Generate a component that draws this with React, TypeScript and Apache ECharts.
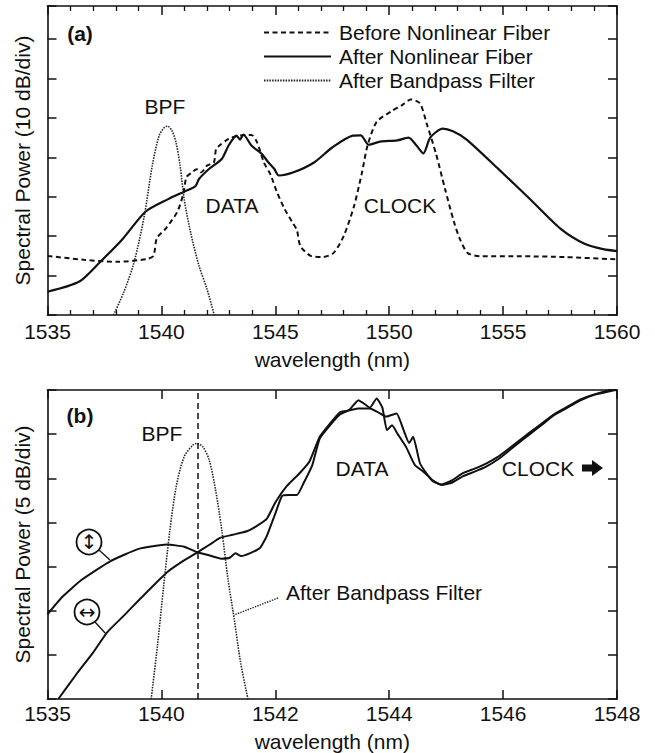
import React, { useEffect, useRef } from "react";
import * as echarts from "echarts";

// ---------- Panel (a): 1535–1560 nm, 10 dB/div (values in divisions above the bottom axis) ----------
const beforeWl = [1535, 1536.6, 1538.1, 1539.35, 1539.65, 1539.8, 1540.2, 1540.7, 1540.95, 1541.1, 1541.3, 1541.55, 1541.75, 1542.0, 1542.3, 1542.4, 1542.55, 1542.95, 1543.4, 1543.95, 1544.2, 1544.5, 1544.8, 1545.05, 1545.4, 1545.75, 1545.95, 1546.1, 1546.55, 1547.05, 1547.55, 1548.0, 1548.45, 1548.8, 1549.05, 1549.45, 1550.1, 1550.55, 1550.95, 1551.35, 1551.65, 1552.05, 1552.45, 1552.85, 1553.1, 1553.45, 1554.0, 1555.8, 1557.7, 1560];
const beforeDiv = [1.5, 1.4, 1.35, 1.42, 1.5, 1.95, 2.2, 2.62, 3.05, 3.5, 3.6, 3.7, 3.62, 3.79, 3.87, 4.21, 4.3, 4.47, 4.55, 4.57, 4.38, 3.87, 3.55, 3.15, 2.7, 2.35, 2.15, 1.75, 1.5, 1.47, 1.57, 2.0, 2.75, 3.6, 4.3, 4.9, 5.17, 5.32, 5.47, 5.37, 4.85, 4.1, 3.2, 2.35, 1.93, 1.57, 1.49, 1.49, 1.47, 1.41];

const afterWl = [1535, 1536.4, 1537.3, 1538.3, 1539.3, 1540.3, 1541.0, 1541.5, 1541.65, 1542.1, 1542.65, 1542.95, 1543.3, 1543.45, 1543.6, 1543.95, 1544.4, 1544.7, 1544.95, 1545.15, 1545.8, 1546.7, 1547.5, 1548.4, 1548.75, 1549.1, 1549.6, 1550.35, 1550.85, 1551.2, 1551.5, 1551.8, 1552.35, 1552.8, 1553.4, 1554.8, 1556.2, 1557.5, 1558.6, 1559.4, 1560];
const afterDiv = [0.59, 0.85, 1.34, 1.93, 2.62, 2.94, 3.13, 3.27, 3.45, 3.71, 3.96, 4.3, 4.55, 4.45, 4.58, 4.3, 4.09, 3.87, 3.71, 3.54, 3.62, 3.87, 4.25, 4.55, 4.56, 4.32, 4.4, 4.43, 4.5, 4.3, 4.1, 4.5, 4.73, 4.66, 4.45, 3.7, 2.93, 2.2, 1.8, 1.67, 1.62];

const bpfTopWl = [1537.9, 1538.35, 1538.8, 1539.25, 1539.6, 1539.9, 1540.13, 1540.27, 1540.46, 1540.64, 1540.82, 1541.0, 1541.28, 1541.65, 1542.0, 1542.32];
const bpfTopDiv = [0, 0.58, 1.34, 2.52, 3.79, 4.55, 4.76, 4.79, 4.68, 4.38, 3.79, 2.94, 2.1, 1.25, 0.66, 0];

// ---------- Panel (b): 5 dB/div ----------
const bottomTickLabels: Record<number, string> = { 1538: "1535", 1540: "1540", 1542: "1542", 1544: "1544", 1546: "1546", 1548: "1548" };

const vertWl = [1538, 1538.25, 1538.6, 1539.1, 1539.6, 1540.1, 1540.4, 1540.62, 1540.85, 1541.05, 1541.2, 1541.3, 1541.4, 1541.55, 1541.73, 1541.85, 1542.0, 1542.12, 1542.25, 1542.38, 1542.5, 1542.65, 1542.78, 1542.96, 1543.14, 1543.3, 1543.46, 1543.55, 1543.66, 1543.78, 1543.88, 1543.96, 1544.05, 1544.15, 1544.3, 1544.45, 1544.6, 1544.77, 1544.92, 1545.1, 1545.3, 1545.5, 1545.71, 1545.9, 1546.06, 1546.25, 1546.47, 1546.7, 1546.88, 1547.1, 1547.35, 1547.6, 1547.93, 1548];
const vertDiv = [1.92, 2.3, 2.7, 3.12, 3.4, 3.5, 3.45, 3.33, 3.25, 3.18, 3.2, 3.3, 3.24, 3.3, 3.42, 3.69, 4.2, 4.6, 4.62, 4.62, 4.9, 5.3, 5.9, 6.2, 6.45, 6.55, 6.77, 6.7, 6.6, 6.81, 6.6, 6.09, 6.2, 6.0, 5.7, 5.3, 5.15, 4.95, 4.85, 4.9, 5.05, 5.15, 5.27, 5.42, 5.58, 5.78, 6.0, 6.23, 6.42, 6.58, 6.76, 6.89, 6.99, 7.0];

const horzWl = [1538.19, 1538.5, 1538.8, 1539.04, 1539.35, 1539.62, 1540.09, 1540.35, 1540.62, 1540.85, 1541.03, 1541.25, 1541.5, 1541.65, 1541.85, 1542.0, 1542.2, 1542.43, 1542.6, 1542.78, 1542.96, 1543.14, 1543.31, 1543.46, 1543.66, 1543.8, 1543.95, 1544.13, 1544.25, 1544.35, 1544.42, 1544.54, 1544.66, 1544.77, 1544.92, 1545.1, 1545.3, 1545.5, 1545.71, 1545.9, 1546.06, 1546.25, 1546.47, 1546.7, 1546.88, 1547.1, 1547.35, 1547.6, 1547.93, 1548];
const horzDiv = [0, 0.55, 1.05, 1.5, 1.9, 2.26, 2.86, 3.1, 3.31, 3.5, 3.65, 3.72, 3.8, 3.9, 4.08, 4.45, 4.82, 5.12, 5.38, 5.94, 6.24, 6.5, 6.54, 6.58, 6.58, 6.5, 6.4, 6.47, 6.1, 5.8, 5.94, 5.34, 5.1, 4.93, 4.86, 4.95, 5.12, 5.22, 5.34, 5.48, 5.63, 5.82, 6.04, 6.26, 6.44, 6.6, 6.78, 6.9, 7.0, 7.0];

const bpfBotWl = [1539.82, 1539.93, 1540.04, 1540.15, 1540.26, 1540.4, 1540.55, 1540.62, 1540.73, 1540.84, 1540.95, 1541.06, 1541.17, 1541.28, 1541.39, 1541.52];
const bpfBotDiv = [0, 1.2, 2.56, 3.83, 4.81, 5.49, 5.75, 5.79, 5.71, 5.41, 4.74, 3.83, 2.71, 1.8, 0.83, 0];
const bpfCenter = 1540.63;

const FONT = "Liberation Sans, Arial, Helvetica, sans-serif";
const INK = "#111";
const DOT = "#222";

const pairs = (xs: number[], ys: number[]) => xs.map((x, i) => [x, ys[i]]);

function axisX(gridIndex: number, min: number, max: number, interval: number, bottom: boolean, minor: boolean, name: string, nameGap: number, margin: number, fmt: (v: number) => string) {
  return {
    type: "value",
    gridIndex,
    position: bottom ? "bottom" : "top",
    min,
    max,
    interval,
    name: bottom ? name : "",
    nameLocation: "middle",
    nameGap,
    nameTextStyle: { fontSize: 21, color: INK, fontFamily: FONT },
    axisLine: { show: true, onZero: false, lineStyle: { color: INK, width: 1.6 } },
    axisTick: { show: true, inside: true, length: 9, lineStyle: { color: INK, width: 1.5 } },
    minorTick: { show: minor, splitNumber: 5, length: 5, lineStyle: { color: INK, width: 1.3 } },
    axisLabel: { show: bottom, fontSize: 21, color: INK, fontFamily: FONT, margin, formatter: fmt },
    splitLine: { show: false },
    minorSplitLine: { show: false },
  };
}

function axisY(gridIndex: number, max: number, left: boolean, name: string) {
  return {
    type: "value",
    gridIndex,
    position: left ? "left" : "right",
    min: 0,
    max,
    interval: 1,
    name: left ? name : "",
    nameLocation: "middle",
    nameGap: 15,
    nameTextStyle: { fontSize: 21, color: INK, fontFamily: FONT },
    axisLine: { show: true, onZero: false, lineStyle: { color: INK, width: 1.6 } },
    axisTick: { show: true, inside: true, length: 9, lineStyle: { color: INK, width: 1.5 } },
    axisLabel: { show: false },
    splitLine: { show: false },
  };
}

const txt = (text: string, x: number, y: number, extra: any = {}) => ({
  type: "text",
  x,
  y,
  silent: true,
  style: { text, fill: INK, fontSize: 21, fontFamily: FONT, align: "center", verticalAlign: "middle", ...extra },
});

export default function App() {
  const ref = useRef<HTMLDivElement>(null);
  useEffect(() => {
    document.body.style.margin = "0";
    const chart = echarts.init(ref.current!, null, { renderer: "svg" });
    const plain = (v: number) => String(v);
    const option: any = {
      animation: false,
      backgroundColor: "#fff",
      textStyle: { fontFamily: FONT },
      grid: [
        { left: 47.5, right: 38, top: 6, height: 309, containLabel: false },
        { left: 47.5, right: 38, top: 390, height: 310, containLabel: false },
      ],
      xAxis: [
        axisX(0, 1535, 1560, 5, true, true, "wavelength (nm)", 34, 6, plain),
        axisX(0, 1535, 1560, 5, false, true, "", 0, 0, plain),
        axisX(1, 1538, 1548, 2, true, false, "wavelength (nm)", 32, 4, (v: number) => bottomTickLabels[v] ?? String(v)),
        axisX(1, 1538, 1548, 2, false, false, "", 0, 0, plain),
      ],
      yAxis: [
        axisY(0, 7.84, true, "Spectral Power (10 dB/div)"),
        axisY(0, 7.84, false, ""),
        axisY(1, 7, true, "Spectral Power (5 dB/div)"),
        axisY(1, 7, false, ""),
      ],
      legend: {
        data: ["Before Nonlinear Fiber", "After Nonlinear Fiber", "After Bandpass Filter"],
        orient: "vertical",
        left: 263,
        top: 22,
        padding: 0,
        itemWidth: 67,
        itemHeight: 21,
        itemGap: 3,
        selectedMode: false,
        itemStyle: { opacity: 0 },
        textStyle: { fontSize: 21, color: INK, fontFamily: FONT, padding: [0, 0, 0, 3] },
      },
      series: [
        {
          name: "Before Nonlinear Fiber",
          type: "line",
          xAxisIndex: 0,
          yAxisIndex: 0,
          data: pairs(beforeWl, beforeDiv),
          showSymbol: false,
          symbol: "none",
          smooth: 0.25,
          lineStyle: { color: INK, width: 2, type: [5, 3.5] },
        },
        {
          name: "After Nonlinear Fiber",
          type: "line",
          xAxisIndex: 0,
          yAxisIndex: 0,
          data: pairs(afterWl, afterDiv),
          showSymbol: false,
          symbol: "none",
          smooth: 0.25,
          lineStyle: { color: INK, width: 2.2, type: "solid" },
        },
        {
          name: "After Bandpass Filter",
          type: "line",
          xAxisIndex: 0,
          yAxisIndex: 0,
          data: pairs(bpfTopWl, bpfTopDiv),
          showSymbol: false,
          symbol: "none",
          smooth: 0.3,
          lineStyle: { color: DOT, width: 1.6, type: [1.5, 1.2] },
        },
        {
          name: "vertical polarization",
          type: "line",
          xAxisIndex: 2,
          yAxisIndex: 2,
          data: pairs(vertWl, vertDiv),
          showSymbol: false,
          symbol: "none",
          smooth: 0.15,
          lineStyle: { color: INK, width: 2 },
        },
        {
          name: "horizontal polarization",
          type: "line",
          xAxisIndex: 2,
          yAxisIndex: 2,
          data: pairs(horzWl, horzDiv),
          showSymbol: false,
          symbol: "none",
          smooth: 0.15,
          lineStyle: { color: INK, width: 2 },
        },
        {
          name: "BPF (b)",
          type: "line",
          xAxisIndex: 2,
          yAxisIndex: 2,
          data: pairs(bpfBotWl, bpfBotDiv),
          showSymbol: false,
          symbol: "none",
          smooth: 0.3,
          lineStyle: { color: DOT, width: 1.6, type: [1.5, 1.2] },
          markLine: {
            silent: true,
            symbol: ["none", "none"],
            label: { show: false },
            lineStyle: { color: INK, width: 1.5, type: [6, 4] },
            data: [{ xAxis: bpfCenter }],
          },
        },
      ],
      graphic: [
        txt("(a)", 80, 33, { fontWeight: "bold" }),
        txt("BPF", 165, 106),
        txt("DATA", 232, 205),
        txt("CLOCK", 400, 205),
        txt("(b)", 80, 415, { fontWeight: "bold" }),
        txt("BPF", 162, 433),
        txt("DATA", 362, 468),
        txt("CLOCK", 538, 468),
        {
          type: "polygon",
          silent: true,
          shape: { points: [[582, 464.5], [592, 464.5], [592, 460], [603, 468], [592, 476], [592, 471.5], [582, 471.5]] },
          style: { fill: INK },
        },
        txt("After Bandpass Filter", 286, 592, { align: "left" }),
        {
          type: "line",
          silent: true,
          shape: { x1: 278, y1: 598, x2: 234, y2: 615 },
          style: { stroke: DOT, lineWidth: 1.4, lineDash: [1.4, 1.2] },
        },
        { type: "circle", silent: true, shape: { cx: 89, cy: 542, r: 12.5 }, style: { fill: "#fff", stroke: INK, lineWidth: 1.8 } },
        txt("↕", 89, 542, { fontSize: 20, fontFamily: "DejaVu Sans" }),
        { type: "line", silent: true, shape: { x1: 99, y1: 550, x2: 110, y2: 560 }, style: { stroke: INK, lineWidth: 1.3 } },
        { type: "circle", silent: true, shape: { cx: 87, cy: 612, r: 12.5 }, style: { fill: "#fff", stroke: INK, lineWidth: 1.8 } },
        txt("↔", 87, 612, { fontSize: 20, fontFamily: "DejaVu Sans" }),
        { type: "line", silent: true, shape: { x1: 95, y1: 622, x2: 106, y2: 634 }, style: { stroke: INK, lineWidth: 1.3 } },
      ],
    };
    chart.setOption(option);
    return () => chart.dispose();
  }, []);
  return <div ref={ref} style={{ width: 655, height: 753 }} />;
}
